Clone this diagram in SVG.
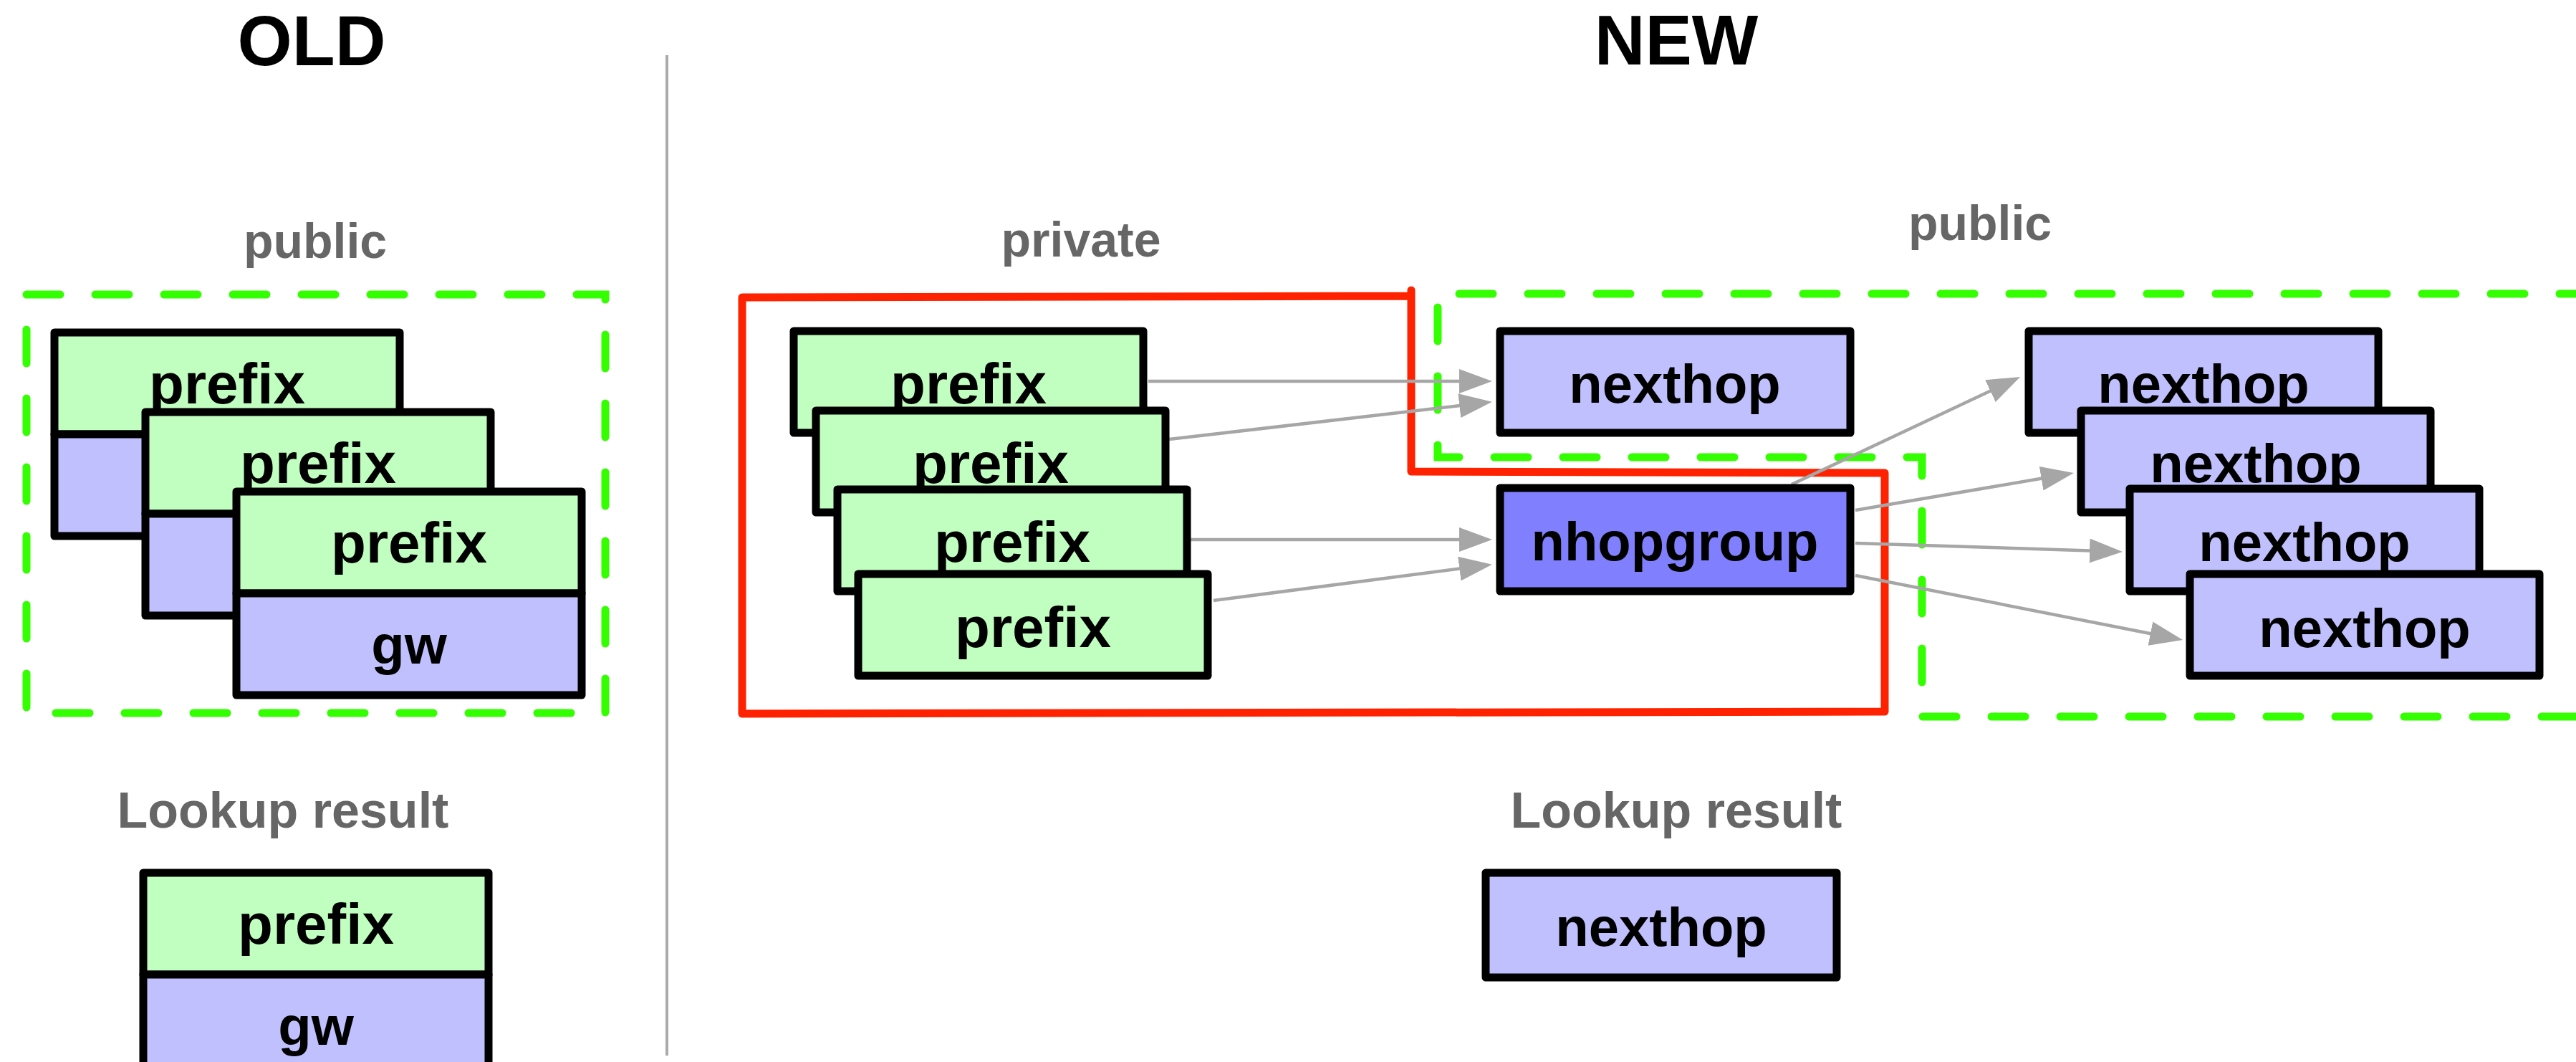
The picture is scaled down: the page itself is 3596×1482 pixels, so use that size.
<svg xmlns="http://www.w3.org/2000/svg" width="3596" height="1482" viewBox="0 0 3596 1482">
  <style>
    .box { stroke: #000; stroke-width: 11; stroke-linejoin: round; }
    .pfx { fill: #c0ffc0; }
    .nh { fill: #c0c0ff; }
    .grp { fill: #8080ff; }
    text { font-family: "Liberation Sans", Arial, Helvetica, sans-serif; font-weight: bold; text-anchor: middle; }
    .title { font-size: 98px; fill: #000; }
    .cap { font-size: 68px; fill: #666; }
    .res { font-size: 70px; fill: #666; }
    .t80 { font-size: 80px; fill: #000; }
    .t76 { font-size: 76px; fill: #000; }
    .zone { fill: none; stroke: #33ff00; stroke-width: 11; stroke-dasharray: 47 49; stroke-linecap: round; }
    .priv { fill: none; stroke: #ff2200; stroke-width: 11; stroke-linejoin: round; stroke-linecap: round; }
    .edge { fill: none; stroke: #a6a6a6; stroke-width: 4.5; marker-end: url(#arr); }
  </style>
  <defs>
    <marker id="arr" viewBox="0 0 46 34" markerWidth="46" markerHeight="34" refX="16" refY="17" orient="auto" markerUnits="userSpaceOnUse">
      <path d="M0,0 L46,17 L0,34 Z" fill="#a6a6a6"/>
    </marker>
    <!-- two-part route entry: prefix over gateway -->
    <g id="route">
      <rect class="box pfx" x="0" y="0" width="482" height="142"/>
      <rect class="box nh" x="0" y="142" width="482" height="142"/>
      <text class="t80" x="241" y="99">prefix</text>
      <text class="t76" x="241" y="240">gw</text>
    </g>
  </defs>

  <!-- headings -->
  <text class="title" x="435" y="91">OLD</text>
  <text class="title" x="2340" y="90">NEW</text>
  <line x1="931" y1="77" x2="931" y2="1473" stroke="#aaaaaa" stroke-width="4"/>

  <!-- region outlines -->
  <g id="regions">
    <text class="cap" x="440" y="360">public</text>
    <rect class="zone" x="37" y="411" width="808" height="584"/>
    <text class="cap" x="1509" y="358">private</text>
    <path class="priv" d="M1970,405 L1970,658 L2631,660 L2631,993 L1036,996 L1036,415 L1970,413"/>
    <text class="cap" x="2764" y="335">public</text>
    <path class="zone" d="M3620,410 L2007,410 L2007,638 L2683,638 L2683,1000 L3620,1000"/>
  </g>

  <!-- OLD: combined prefix/gw entries -->
  <g id="old-route-1"><use href="#route" x="76" y="464"/></g>
  <g id="old-route-2"><use href="#route" x="203" y="575"/></g>
  <g id="old-route-3"><use href="#route" x="330" y="686"/></g>

  <text class="res" x="395" y="1155">Lookup result</text>
  <g id="old-result"><use href="#route" x="200" y="1218"/></g>

  <!-- connectors -->
  <g id="connectors">
    <path class="edge" d="M1603,532 L2053,532"/>
    <path class="edge" d="M1632,613 L2053.2,564.3"/>
    <path class="edge" d="M1662,753 L2053,753"/>
    <path class="edge" d="M1694,838 L2053.2,791.5"/>
    <path class="edge" d="M2501,676 L2792.9,538.8"/>
    <path class="edge" d="M2590,712 L2865.4,665"/>
    <path class="edge" d="M2590,758 L2933,769"/>
    <path class="edge" d="M2590,803 L3017.6,887.2"/>
  </g>

  <!-- NEW: private prefixes -->
  <g id="prefix-a">
    <rect class="box pfx" x="1108" y="462" width="488" height="142"/>
    <text class="t80" x="1352" y="563">prefix</text>
  </g>
  <g id="prefix-b">
    <rect class="box pfx" x="1139" y="573" width="488" height="142"/>
    <text class="t80" x="1383" y="674">prefix</text>
  </g>
  <g id="prefix-c">
    <rect class="box pfx" x="1169" y="683" width="488" height="142"/>
    <text class="t80" x="1413" y="784">prefix</text>
  </g>
  <g id="prefix-d">
    <rect class="box pfx" x="1198" y="801" width="488" height="142"/>
    <text class="t80" x="1442" y="903">prefix</text>
  </g>

  <!-- NEW: public nexthop and group -->
  <g id="nexthop-direct">
    <rect class="box nh" x="2094" y="462" width="489" height="142"/>
    <text class="t76" x="2338" y="562">nexthop</text>
  </g>
  <g id="nhopgroup">
    <rect class="box grp" x="2094" y="681" width="489" height="144"/>
    <text class="t76" x="2338" y="782">nhopgroup</text>
  </g>

  <g id="nexthop-a">
    <rect class="box nh" x="2832" y="462" width="488" height="142"/>
    <text class="t76" x="3076" y="562">nexthop</text>
  </g>
  <g id="nexthop-b">
    <rect class="box nh" x="2905" y="573" width="488" height="142"/>
    <text class="t76" x="3149" y="673">nexthop</text>
  </g>
  <g id="nexthop-c">
    <rect class="box nh" x="2973" y="682" width="488" height="143"/>
    <text class="t76" x="3217" y="783">nexthop</text>
  </g>
  <g id="nexthop-d">
    <rect class="box nh" x="3057" y="801" width="488" height="142"/>
    <text class="t76" x="3301" y="903">nexthop</text>
  </g>

  <text class="res" x="2340" y="1155">Lookup result</text>
  <g id="new-result">
    <rect class="box nh" x="2074" y="1218" width="490" height="146"/>
    <text class="t76" x="2319" y="1320">nexthop</text>
  </g>
</svg>
